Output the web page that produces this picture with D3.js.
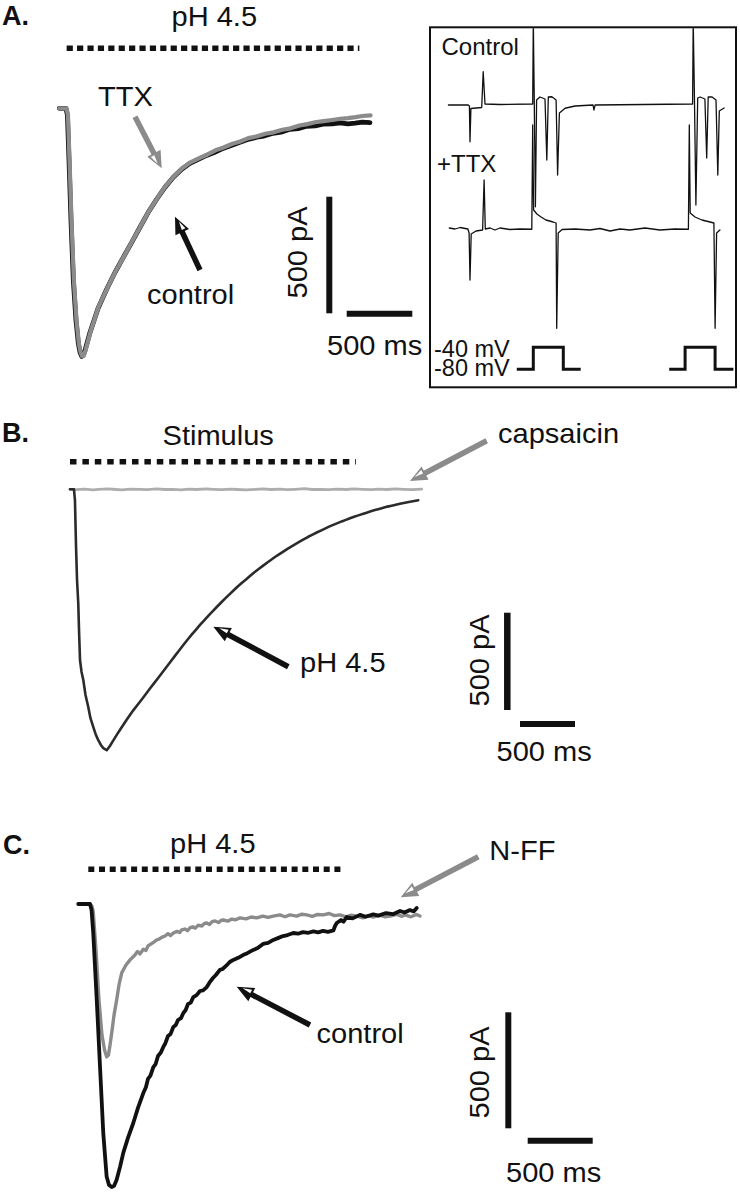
<!DOCTYPE html>
<html>
<head>
<meta charset="utf-8">
<script src="https://cdn.jsdelivr.net/npm/d3@7"></script>
<style>
  html, body { margin: 0; padding: 0; background: #fff; }
  svg { display: block; }
</style>
</head>
<body>
<svg id="fig" width="740" height="1200"></svg>
<script>
// ---------------- DATA (ms, pA / nA / mV) ----------------
// Panel A: pH 4.5 evoked current, control (black) vs TTX (grey)
const A_ctrl_t  = [0,51,62,74,89,107,127,145,158,171,183,196,234,295,361,425,488,552,615,678,742,805,869,933,996,1059,1123,1180,1248,1300,1377,1430,1505,1560,1629,1690,1758,1820,1886,1950,2010,2080,2139,2200,2254,2310,2368];
const A_ctrl_pA = [0,0,-30,-223,-480,-738,-909,-1008,-1046,-1064,-1059,-1038,-961,-858,-776,-703,-639,-575,-510,-446,-390,-339,-296,-261,-236,-219,-202,-190,-172,-162,-146,-135,-124,-119,-107,-102,-90,-87,-77,-75,-68,-67,-62,-67,-64,-59,-61];
const A_ttx_t   = [0,55,66,78,93,111,131,149,162,175,187,200,238,299,365,428,492,556,619,682,746,809,873,937,1000,1063,1127,1190,1252,1320,1381,1440,1509,1570,1633,1700,1762,1830,1890,1950,2014,2080,2143,2200,2258,2310,2372];
const A_ttx_pA  = [0,0,-30,-223,-480,-738,-909,-1008,-1046,-1064,-1059,-1038,-958,-852,-772,-700,-636,-570,-506,-442,-386,-335,-292,-257,-232,-215,-199,-180,-168,-152,-142,-128,-120,-109,-103,-92,-86,-74,-68,-60,-55,-50,-45,-42,-38,-33,-30];
const A_stim    = [56, 2287];

// Inset: voltage-clamp records, control and +TTX (nA), steps (mV)
const In_ctrl_t  = [28,94,98,100,103,139,144,150,200,309,311,314,318,322,333,350,356,361,373,387,392,398,417,450,510,513,517,842,844,848,853,859,867,883,889,894,907,920,926,931,947];
const In_ctrl_nA = [0,0,-0.04,-1.47,-0.14,-0.1,1.33,0.04,0.02,0.04,3.4,0.4,-4.07,0.2,0.32,0.24,-2.2,0.32,0.33,0.2,-2.8,-0.32,-0.13,-0.04,0,-0.2,0,0.04,3.4,0.4,-4.0,0.28,0.32,0.24,-2.12,0.32,0.32,0.2,-2.8,-0.24,-0.12];
const In_ttx_t   = [31,50,67,93,97,100,104,120,142,147,151,167,183,200,233,267,306,309,312,323,337,353,377,387,389,394,407,450,500,533,567,600,633,683,733,783,828,831,834,850,873,900,913,917,922,933];
const In_ttx_nA  = [0.02,-0.02,0.04,-0.02,-0.18,-2.06,-0.22,-0.1,-0.06,1.94,-0.02,0.02,-0.06,0.02,-0.04,-0.02,-0.03,4.14,0.74,0.58,0.46,0.34,0.26,0.22,-3.99,-0.18,-0.04,-0.02,-0.06,0,-0.1,-0.02,-0.06,0.02,-0.06,-0.02,-0.03,4.14,0.62,0.46,0.34,0.26,0.22,-3.99,-0.18,-0.06];
const In_step1_t  = [256,311,311,411,411,469];
const In_step2_t  = [764,817,817,917,917,978];
const In_step_mV  = [-80,-80,-40,-40,-80,-80];

// Panel B: pH 4.5 vs capsaicin
const B_ph_t  = [0,36,45,55,64,75,82,91,105,121,141,166,186,212,236,257,282,303,334,364,394,425,455,485,515,545,575,615,652,690,727,765,803,841,879,917,954,992,1030,1068,1106,1144,1182,1220,1257,1296,1334,1372,1409,1447,1484,1522,1561,1600,1636,1674,1712,1750,1788,1826,1863,1900,1939,1977,2015,2053,2091,2128,2166,2205,2243,2280,2318,2355,2393,2432,2470,2508,2545,2583,2621,2659,2697,2735,2772,2810,2848,2886,2924,2962,3000,3045,3091,3130,3166];
const B_ph_pA = [0,0,-55,-297,-466,-584,-723,-877,-939,-980,-1057,-1119,-1176,-1222,-1263,-1289,-1315,-1330,-1341,-1318,-1290,-1262,-1236,-1210,-1184,-1160,-1136,-1107,-1080,-1052,-1024,-996,-968,-940,-912,-884,-856,-828,-800,-773,-747,-722,-697,-673,-650,-627,-605,-583,-562,-541,-521,-501,-482,-464,-446,-428,-411,-395,-379,-363,-348,-334,-320,-306,-293,-280,-268,-256,-244,-233,-222,-212,-202,-192,-183,-174,-165,-157,-149,-141,-134,-127,-120,-113,-107,-101,-95,-89,-84,-79,-74,-69,-64,-60,-56];
const B_cap_t  = [0,60,130,210,260,340,420,470,550,640,700,790,860,930,1010,1080,1150,1240,1300,1380,1460,1520,1600,1690,1750,1830,1910,1970,2050,2130,2200,2280,2350,2430,2510,2580,2660,2740,2800,2880,2960,3030,3110,3197];
const B_cap_pA = [0,-2,1,-3,0,2,-1,-3,1,0,-2,2,-1,0,-3,1,-1,2,0,-2,1,-1,-3,0,2,-1,1,-2,0,3,-1,0,-2,1,-1,2,0,-2,1,-1,2,0,-2,1];
const B_stim   = [0, 2600];

// Panel C: pH 4.5, control (black) vs N-FF (grey)
const C_ctrl_t  = [0,90,102,115,142,167,192,218,236,257,275,295,321,346,382,423,459,500,520,536,555,577,595,613,635,654,670,690,710,731,750,767,790,808,825,844,865,885,910,936,960,988,1010,1036,1060,1089,1110,1136,1165,1192,1230,1267,1300,1346,1380,1421,1460,1500,1540,1575,1610,1654,1690,1728,1770,1808,1845,1882,1920,1962,1975,1988,2021,2040,2065,2110,2167,2210,2269,2310,2367,2420,2475,2510,2551,2580,2603];
const C_ctrl_pA = [0,0,-26,-125,-414,-701,-987,-1175,-1211,-1220,-1215,-1189,-1133,-1073,-1008,-944,-879,-815,-790,-754,-740,-703,-690,-655,-640,-616,-600,-569,-560,-530,-522,-500,-492,-470,-458,-431,-425,-401,-393,-375,-372,-358,-338,-319,-305,-284,-280,-267,-250,-241,-232,-220,-212,-198,-190,-172,-168,-155,-146,-138,-134,-125,-128,-121,-124,-118,-122,-116,-120,-114,-95,-82,-69,-76,-56,-62,-47,-55,-45,-50,-39,-44,-30,-37,-26,-32,-17];
const C_nff_t   = [0,90,105,115,136,159,182,202,218,232,244,257,275,295,313,334,367,398,436,455,475,500,520,536,560,580,603,625,645,667,690,710,731,760,780,795,820,840,859,880,900,923,950,970,988,1010,1030,1052,1080,1100,1115,1150,1180,1210,1244,1290,1330,1372,1420,1460,1500,1550,1590,1628,1680,1720,1757,1800,1840,1885,1930,1970,2013,2060,2100,2142,2190,2230,2269,2320,2360,2398,2450,2490,2513,2560,2600,2628];
const C_nff_pA  = [0,0,-9,-34,-198,-414,-565,-629,-659,-651,-608,-556,-478,-414,-349,-297,-263,-241,-220,-205,-215,-195,-200,-181,-172,-165,-155,-150,-143,-138,-128,-136,-125,-118,-123,-112,-108,-115,-103,-98,-104,-91,-95,-84,-82,-88,-76,-73,-80,-70,-69,-74,-65,-68,-60,-64,-56,-60,-52,-58,-52,-47,-55,-47,-52,-44,-47,-53,-45,-47,-41,-50,-47,-55,-48,-52,-60,-50,-56,-48,-55,-52,-45,-53,-47,-55,-45,-52];
const C_stim    = [77, 2051];

const scaleBar = {ms: 500, pA: 500};

// ---------------- DRAWING ----------------
const FONT = "'Liberation Sans', Arial, Helvetica, sans-serif";
const svg = d3.select("#fig");
svg.append("rect").attr("width", 740).attr("height", 1200).attr("fill", "#fff");

const BLACK = "#111", GREY = "#8b8b8b", LIGHT = "#adadad";

function zip(t, v) { return t.map((d, i) => [d, v[i]]); }

function trace(g, x, y, t, v, color, w) {
  const line = d3.line().x(d => x(d[0])).y(d => y(d[1]));
  g.append("path").attr("d", line(zip(t, v)))
    .attr("fill", "none").attr("stroke", color).attr("stroke-width", w)
    .attr("stroke-linejoin", "round").attr("stroke-linecap", "round");
}

function label(str, x, y, o = {}) {
  const size = o.size || 28.5, sx = o.sx || 1.02, rot = o.rot || 0;
  svg.append("text")
    .attr("transform", `translate(${x},${y}) rotate(${rot}) scale(${sx},1)`)
    .attr("font-family", FONT).attr("font-size", size)
    .attr("font-weight", o.bold ? "bold" : "normal")
    .attr("text-anchor", o.anchor || "start")
    .attr("fill", "#111").text(str);
}

function arrow(x1, y1, x2, y2, color) {
  const dx = x2 - x1, dy = y2 - y1, L = Math.hypot(dx, dy);
  const ux = dx / L, uy = dy / L, px = -uy, py = ux;
  const hl = 17, hw = 7.5;
  const bx = x2 - ux * hl, by = y2 - uy * hl;
  svg.append("line").attr("x1", x1).attr("y1", y1).attr("x2", bx + ux * 2).attr("y2", by + uy * 2)
    .attr("stroke", color).attr("stroke-width", 5.5);
  svg.append("polygon")
    .attr("points", [[x2, y2], [bx + px * hw, by + py * hw], [bx - px * hw, by - py * hw]].map(p => p.join(",")).join(" "))
    .attr("fill", color);
  const ix = bx + ux * 2, iy = by + uy * 2;
  svg.append("polygon")
    .attr("points", [[ix + ux * 9 + px * 1.5, iy + uy * 9 + py * 1.5], [ix + px * 4.5, iy + py * 4.5], [ix + px * 0.5, iy + py * 0.5]].map(p => p.join(",")).join(" "))
    .attr("fill", "#fff");
}

function stimBar(x, t, y, dash) {
  svg.append("line").attr("x1", x(t[0])).attr("x2", x(t[1])).attr("y1", y).attr("y2", y)
    .attr("stroke", "#111").attr("stroke-width", 5.5).attr("stroke-dasharray", dash);
}

function scaleBars(x, y, vx, vBottom, hx, hy, wv, wh) {
  const lenV = y(-scaleBar.pA) - y(0), lenH = x(scaleBar.ms) - x(0);
  svg.append("line").attr("x1", vx).attr("x2", vx).attr("y1", vBottom - lenV).attr("y2", vBottom)
    .attr("stroke", "#111").attr("stroke-width", wv);
  svg.append("line").attr("x1", hx).attr("x2", hx + lenH).attr("y1", hy).attr("y2", hy)
    .attr("stroke", "#111").attr("stroke-width", wh);
}

// ----- Panel A -----
const xA = d3.scaleLinear().domain([0, 500]).range([59.3, 124.9]);
const yA = d3.scaleLinear().domain([0, -500]).range([108.3, 224.9]);
const gA = svg.append("g");
trace(gA, xA, yA, A_ctrl_t, A_ctrl_pA, BLACK, 4.8);
trace(gA, xA, yA, A_ttx_t, A_ttx_pA, GREY, 4.2);
stimBar(xA, A_stim, 48.3, "6.2 4.2");
scaleBars(xA, yA, 329.3, 313.3, 346.7, 313.7, 6, 6);
label("A.", 2, 24.5, {bold: true, size: 27, sx: 1.0});
label("pH 4.5", 171.5, 26);
label("TTX", 98, 106);
label("control", 147, 304);
label("500 pA", 307, 252.5, {rot: -90, anchor: "middle"});
label("500 ms", 327, 355);
arrow(135, 116.7, 161.7, 168.3, GREY);
arrow(200, 270, 175, 216.7, BLACK);

// ----- Inset -----
svg.append("rect").attr("x", 430).attr("y", 27.3).attr("width", 306).attr("height", 360)
  .attr("fill", "none").attr("stroke", "#111").attr("stroke-width", 2);
svg.append("clipPath").attr("id", "inclip").append("rect")
  .attr("x", 431).attr("y", 28.3).attr("width", 304).attr("height", 358);
const xI = d3.scaleLinear().domain([0, 1000]).range([440, 740]);
const yIc = d3.scaleLinear().domain([0, -1]).range([105, 130]);
const yIt = d3.scaleLinear().domain([0, -1]).range([228.5, 253.5]);
const yV = d3.scaleLinear().domain([-80, -40]).range([369.3, 347.3]);
const gI = svg.append("g").attr("clip-path", "url(#inclip)");
trace(gI, xI, yIc, In_ctrl_t, In_ctrl_nA, BLACK, 1.3);
trace(gI, xI, yIt, In_ttx_t, In_ttx_nA, BLACK, 1.3);
[In_step1_t, In_step2_t].forEach(st => {
  gI.append("path").attr("d", d3.line().x(d => xI(d[0])).y(d => yV(d[1]))(zip(st, In_step_mV)))
    .attr("fill", "none").attr("stroke", BLACK).attr("stroke-width", 3).attr("stroke-linejoin", "miter");
});
label("Control", 441.5, 55, {size: 24, sx: 1.0});
label("+TTX", 437, 171.5, {size: 24, sx: 1.0});
label("-40 mV", 434, 356.5, {size: 23.5, sx: 1.0});
label("-80 mV", 434, 375.5, {size: 23.5, sx: 1.0});

// ----- Panel B -----
const xB = d3.scaleLinear().domain([0, 500]).range([70, 125]);
const yB = d3.scaleLinear().domain([0, -500]).range([489.3, 586.6]);
const gB = svg.append("g");
trace(gB, xB, yB, B_cap_t, B_cap_pA, LIGHT, 2.8);
trace(gB, xB, yB, B_ph_t, B_ph_pA, "#2b2b2b", 2.6);
stimBar(xB, B_stim, 461.7, "6.5 5.9");
scaleBars(xB, yB, 507.3, 710, 520, 724, 6.5, 6);
label("B.", 2, 441.7, {bold: true, size: 27, sx: 1.0});
label("Stimulus", 162.5, 445);
label("capsaicin", 498, 443.3);
label("pH 4.5", 300, 671.7);
label("500 pA", 489, 660.5, {rot: -90, anchor: "middle"});
label("500 ms", 496.5, 760.7);
arrow(486.7, 440.7, 410, 481, GREY);
arrow(288.3, 666.7, 213.3, 626.7, BLACK);

// ----- Panel C -----
const xC = d3.scaleLinear().domain([0, 500]).range([78.3, 143.3]);
const yC = d3.scaleLinear().domain([0, -500]).range([904, 1020]);
const gC = svg.append("g");
trace(gC, xC, yC, C_nff_t, C_nff_pA, GREY, 3.4);
trace(gC, xC, yC, C_ctrl_t, C_ctrl_pA, BLACK, 3.8);
stimBar(xC, C_stim, 869.3, "6 4.7");
scaleBars(xC, yC, 508.3, 1128.3, 527.7, 1140.7, 6, 6);
label("C.", 3, 854, {bold: true, size: 27, sx: 1.0});
label("pH 4.5", 170, 852.5);
label("N-FF", 489.3, 860);
label("control", 316.5, 1043.3);
label("500 pA", 488.5, 1072.5, {rot: -90, anchor: "middle"});
label("500 ms", 506, 1181.7);
arrow(478.3, 856.7, 400.7, 897.3, GREY);
arrow(310, 1025, 236.7, 986.7, BLACK);
</script>
</body>
</html>
